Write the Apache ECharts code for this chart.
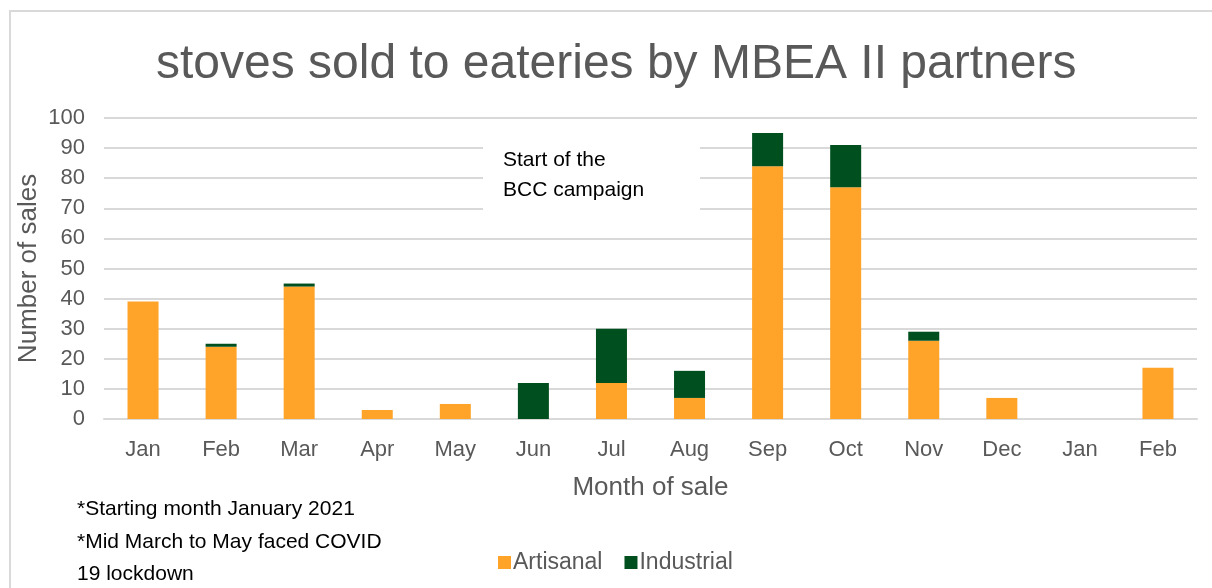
<!DOCTYPE html>
<html>
<head>
<meta charset="utf-8">
<script src="https://cdn.jsdelivr.net/npm/echarts@6/dist/echarts.min.js"></script>
<style>
  html, body { margin: 0; padding: 0; background: #fff; }
  #chartDiv { width: 1212px; height: 588px; }
</style>
</head>
<body>
<div id="chartDiv"></div>
<script>
// 数据
let months = ['Jan', 'Feb', 'Mar', 'Apr', 'May', 'Jun', 'Jul', 'Aug', 'Sep', 'Oct', 'Nov', 'Dec', 'Jan', 'Feb'];
let artisanal = [39, 24, 44, 3, 5, 0, 12, 7, 84, 77, 26, 7, 0, 17];
let industrial = [0, 1, 1, 0, 0, 12, 18, 9, 11, 14, 3, 0, 0, 0];
let yTicks = [0, 100, 10]; // min, max, interval
let notes = ['*Starting month January 2021', '*Mid March to May faced COVID', '19 lockdown'];

let myChart = echarts.init(document.getElementById('chartDiv'));
window.onresize = myChart.resize;

let font = 'Liberation Sans, Arial, sans-serif';
let grey = '#595959';

let option = {
	backgroundColor: '#fff',
	animation: false,
	textStyle: { fontFamily: font },
	title: {
		text: 'stoves sold to eateries by MBEA II partners',
		left: 151,
		top: 36,
		textStyle: { color: grey, fontSize: 48, fontWeight: 'normal', fontFamily: font }
	},
	grid: { left: 104, right: 15, top: 118, bottom: 169 },
	legend: {
		left: 493,
		top: 546,
		itemWidth: 13,
		itemHeight: 13,
		itemGap: 22,
		icon: 'rect',
		textStyle: { color: grey, fontSize: 23, fontFamily: font, padding: [0, 0, 0, -3] },
		data: ['Artisanal', 'Industrial']
	},
	xAxis: {
		type: 'category',
		data: months,
		name: 'Month of sale',
		nameLocation: 'middle',
		nameGap: 56,
		nameTextStyle: { color: grey, fontSize: 26, fontFamily: font },
		axisLine: { show: true, lineStyle: { color: '#d9d9d9', width: 2 } },
		axisTick: { show: false },
		axisLabel: { color: grey, fontSize: 22, margin: 20, fontFamily: font }
	},
	yAxis: {
		type: 'value',
		min: yTicks[0],
		max: yTicks[1],
		interval: yTicks[2],
		name: 'Number of sales',
		nameLocation: 'middle',
		nameGap: 62,
		nameMoveOverlap: false,
		nameTextStyle: { color: grey, fontSize: 26, fontFamily: font },
		axisLine: { show: false },
		axisTick: { show: false },
		axisLabel: { color: grey, fontSize: 22, margin: 19, fontFamily: font },
		splitLine: { lineStyle: { color: '#d9d9d9', width: 2 } }
	},
	graphic: [
		// 外框
		{ type: 'polyline', shape: { points: [[10, 588], [10, 11], [1212, 11]] },
		  style: { stroke: '#d9d9d9', lineWidth: 2, fill: null }, silent: true },
		// 注释框
		{ type: 'rect', shape: { x: 483, y: 128, width: 217, height: 100 },
		  style: { fill: '#fff' }, z: 50, silent: true },
		{ type: 'text', left: 503, top: 145, z: 51,
		  style: { text: 'Start of the\nBCC campaign', fill: '#000', font: '21px ' + font, lineHeight: 30 } }
	],
	series: [
		{
			name: 'Artisanal', type: 'bar', stack: 'total', data: artisanal,
			barWidth: 31,
			itemStyle: { color: '#ffa329' }
		},
		{
			name: 'Industrial', type: 'bar', stack: 'total', data: industrial,
			barWidth: 31,
			itemStyle: { color: '#004f1e' }
		}
	]
};

// 脚注
notes.forEach(function (line, i) {
	option.graphic.push({
		type: 'text', left: 77, top: [499, 532, 564][i],
		style: { text: line, fill: '#000', font: '21px ' + font }
	});
});

myChart.setOption(option);
</script>
</body>
</html>
